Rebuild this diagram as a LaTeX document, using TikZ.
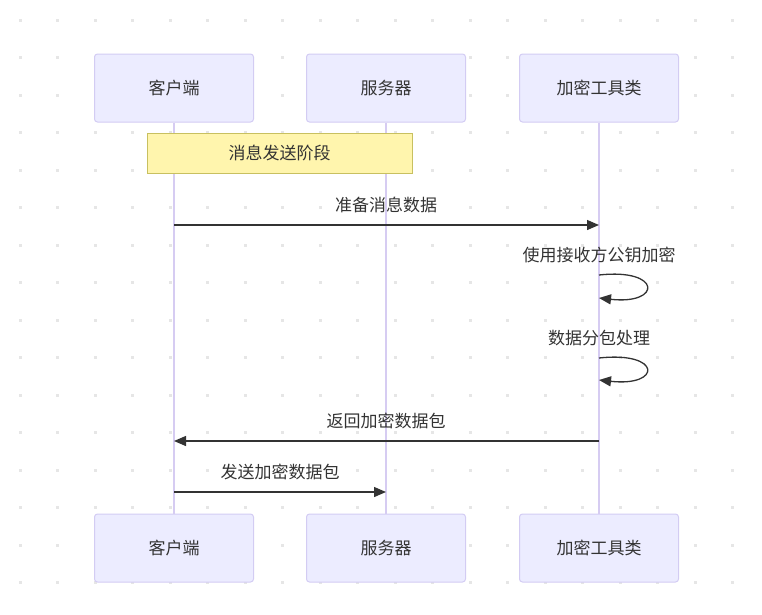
\documentclass[tikz,border=0pt]{standalone}
\usepackage{fontspec}
\setmainfont{Noto Sans CJK SC}
\usetikzlibrary{arrows.meta}
\definecolor{actfill}{HTML}{ECECFF}
\definecolor{actline}{HTML}{D3CCF3}
\definecolor{lifeline}{HTML}{D6CCF2}
\definecolor{notefill}{HTML}{FFF5AD}
\definecolor{noteline}{HTML}{C8C060}
\definecolor{txt}{HTML}{333333}
\definecolor{dotc}{HTML}{E6E6E6}
\tikzset{
  actor/.style={draw=actline, fill=actfill, rounded corners=3pt, line width=1pt,
    minimum width=159pt, minimum height=68pt, inner sep=0pt, text=txt, font=\fontsize{17}{19}\selectfont},
  note/.style={draw=noteline, fill=notefill, line width=1pt,
    minimum width=265pt, minimum height=40pt, inner sep=0pt, text=txt, font=\fontsize{17}{19}\selectfont},
  life/.style={draw=lifeline, line width=1.5pt},
  msg/.style={draw=txt, line width=1.3pt, -{Triangle[length=12pt,width=10pt]}},
  lbl/.style={text=txt, font=\fontsize{17}{19}\selectfont, inner sep=0pt}
}
\begin{document}
\begin{tikzpicture}[x=1pt,y=-1pt]
\useasboundingbox (0,0) rectangle (762,614);
% dot grid
\foreach \i in {0,...,20} {
  \foreach \j in {0,...,16} {
    \fill[dotc] ({20+37.5*\i-1.5},{20+37.5*\j-1.5}) rectangle ++(3,3);
  }
}
% actors
\node[actor] (c1) at (174,88) {客户端};
\node[actor] (s1) at (386,88) {服务器};
\node[actor] (e1) at (599,88) {加密工具类};
\node[actor] (c2) at (174,548) {客户端};
\node[actor] (s2) at (386,548) {服务器};
\node[actor] (e2) at (599,548) {加密工具类};
% lifelines
\draw[life] (c1.south) -- (c2.north);
\draw[life] (s1.south) -- (s2.north);
\draw[life] (e1.south) -- (e2.north);
% note
\node[note] (n) at (279.5,153) {消息发送阶段};
% message coordinates
\coordinate (m1a) at (174,225);
\coordinate (m1b) at (599,225);
\coordinate (l1a) at (599,275);
\coordinate (l1b) at (599,298);
\coordinate (l2a) at (599,358);
\coordinate (l2b) at (599,380);
\coordinate (m4a) at (599,441);
\coordinate (m4b) at (174,441);
\coordinate (m5a) at (174,492);
\coordinate (m5b) at (386,492);
% messages
\draw[msg] (m1a) -- (m1b);
\node[lbl] (t1) at (386,205) {准备消息数据};
\node[lbl] (t2) at (599,255) {使用接收方公钥加密};
\draw[msg] (l1a) .. controls (662,268) and (662,305) .. (l1b);
\node[lbl] (t3) at (599,338) {数据分包处理};
\draw[msg] (l2a) .. controls (662,351) and (662,387) .. (l2b);
\draw[msg] (m4a) -- (m4b);
\node[lbl] (t4) at (386,421) {返回加密数据包};
\draw[msg] (m5a) -- (m5b);
\node[lbl] (t5) at (280,472) {发送加密数据包};
\end{tikzpicture}
\end{document}
